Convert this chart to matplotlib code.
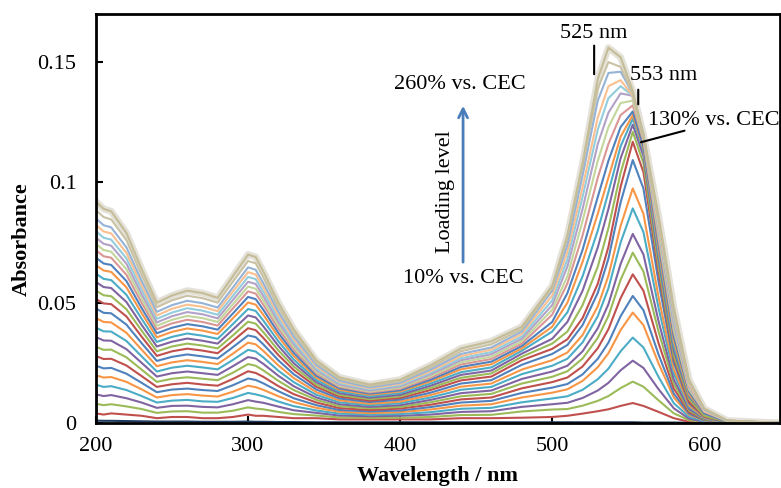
import numpy as np
import matplotlib.pyplot as plt

plt.rcParams['font.family'] = ['Liberation Serif', 'DejaVu Serif']
plt.rcParams['font.size'] = 16

wavelength = [200, 205, 210, 220, 230, 240, 250, 260, 270, 280, 290, 300, 305, 310,
              320, 330, 345, 360, 380, 400, 420, 440, 460, 480, 500, 510, 520, 530,
              537, 545, 553, 560, 570, 580, 590, 600, 615, 650]

# blank
abs_000 = [0.0010, 0.0009, 0.0009, 0.0008, 0.0007, 0.0006, 0.0006, 0.0006, 0.0005, 0.0005, 0.0005, 0.0006, 0.0005, 0.0005, 0.0004, 0.0004, 0.0003, 0.0003, 0.0003, 0.0003, 0.0003, 0.0003, 0.0003, 0.0003, 0.0003, 0.0003, 0.0003, 0.0003, 0.0003, 0.0003, 0.0003, 0.0002, 0.0002, 0.0002, 0.0001, 0.0001, 0.0, 0.0]

# loading level, % vs. CEC
abs_010 = [0.0040, 0.0035, 0.0040, 0.0035, 0.0030, 0.0020, 0.0025, 0.0025, 0.0020, 0.0020, 0.0025, 0.0035, 0.0030, 0.0030, 0.0025, 0.0020, 0.0020, 0.0015, 0.0015, 0.0015, 0.0015, 0.0020, 0.0020, 0.0022, 0.0025, 0.0030, 0.0039, 0.0049, 0.0057, 0.0071, 0.0083, 0.0071, 0.0046, 0.0020, 0.0005, 0.0001, 0.0, 0.0]
abs_020 = [0.0080, 0.0074, 0.0078, 0.0069, 0.0058, 0.0042, 0.0048, 0.0049, 0.0043, 0.0043, 0.0051, 0.0065, 0.0060, 0.0057, 0.0046, 0.0037, 0.0031, 0.0023, 0.0022, 0.0022, 0.0025, 0.0033, 0.0034, 0.0048, 0.0056, 0.0058, 0.0072, 0.0092, 0.0112, 0.0145, 0.0172, 0.0151, 0.0094, 0.0040, 0.0012, 0.0003, 0.0, 0.0]
abs_030 = [0.0119, 0.0112, 0.0116, 0.0103, 0.0085, 0.0063, 0.0071, 0.0072, 0.0067, 0.0065, 0.0078, 0.0095, 0.0089, 0.0084, 0.0068, 0.0053, 0.0042, 0.0031, 0.0028, 0.0030, 0.0035, 0.0046, 0.0049, 0.0067, 0.0078, 0.0084, 0.0104, 0.0135, 0.0167, 0.0219, 0.0259, 0.0229, 0.0140, 0.0061, 0.0018, 0.0005, 0.0, 0.0]
abs_040 = [0.0159, 0.0150, 0.0153, 0.0137, 0.0112, 0.0085, 0.0093, 0.0096, 0.0090, 0.0088, 0.0104, 0.0125, 0.0119, 0.0111, 0.0089, 0.0070, 0.0052, 0.0039, 0.0035, 0.0037, 0.0045, 0.0059, 0.0063, 0.0086, 0.0102, 0.0111, 0.0138, 0.0182, 0.0226, 0.0298, 0.0355, 0.0314, 0.0191, 0.0082, 0.0026, 0.0008, 0.0, 0.0]
abs_050 = [0.0198, 0.0189, 0.0191, 0.0171, 0.0140, 0.0106, 0.0116, 0.0120, 0.0114, 0.0110, 0.0130, 0.0155, 0.0149, 0.0138, 0.0111, 0.0087, 0.0063, 0.0047, 0.0041, 0.0045, 0.0056, 0.0072, 0.0078, 0.0106, 0.0126, 0.0140, 0.0175, 0.0232, 0.0290, 0.0386, 0.0459, 0.0407, 0.0247, 0.0106, 0.0034, 0.0011, 0.0, 0.0]
abs_060 = [0.0238, 0.0227, 0.0229, 0.0205, 0.0167, 0.0128, 0.0139, 0.0143, 0.0137, 0.0133, 0.0157, 0.0185, 0.0179, 0.0165, 0.0132, 0.0103, 0.0074, 0.0054, 0.0048, 0.0052, 0.0066, 0.0085, 0.0092, 0.0125, 0.0147, 0.0162, 0.0202, 0.0267, 0.0334, 0.0444, 0.0528, 0.0469, 0.0284, 0.0122, 0.0039, 0.0012, 0.0, 0.0]
abs_070 = [0.0278, 0.0266, 0.0267, 0.0239, 0.0195, 0.0150, 0.0161, 0.0167, 0.0160, 0.0155, 0.0183, 0.0215, 0.0208, 0.0192, 0.0153, 0.0120, 0.0085, 0.0062, 0.0054, 0.0060, 0.0076, 0.0098, 0.0106, 0.0144, 0.0170, 0.0189, 0.0235, 0.0311, 0.0390, 0.0519, 0.0618, 0.0550, 0.0331, 0.0143, 0.0045, 0.0015, 0.0, 0.0]
abs_080 = [0.0317, 0.0304, 0.0305, 0.0273, 0.0222, 0.0171, 0.0184, 0.0190, 0.0184, 0.0178, 0.0209, 0.0245, 0.0238, 0.0219, 0.0175, 0.0137, 0.0096, 0.0070, 0.0061, 0.0067, 0.0086, 0.0111, 0.0121, 0.0164, 0.0192, 0.0215, 0.0268, 0.0354, 0.0445, 0.0595, 0.0708, 0.0630, 0.0379, 0.0163, 0.0052, 0.0016, 0.0, 0.0]
abs_090 = [0.0357, 0.0343, 0.0342, 0.0307, 0.0250, 0.0193, 0.0207, 0.0214, 0.0207, 0.0200, 0.0236, 0.0274, 0.0268, 0.0246, 0.0196, 0.0153, 0.0106, 0.0078, 0.0067, 0.0074, 0.0096, 0.0124, 0.0135, 0.0183, 0.0214, 0.0238, 0.0298, 0.0394, 0.0494, 0.0661, 0.0786, 0.0701, 0.0422, 0.0181, 0.0058, 0.0019, 0.0, 0.0]
abs_100 = [0.0396, 0.0381, 0.0380, 0.0341, 0.0277, 0.0214, 0.0230, 0.0238, 0.0231, 0.0223, 0.0262, 0.0304, 0.0297, 0.0273, 0.0217, 0.0170, 0.0117, 0.0086, 0.0074, 0.0082, 0.0106, 0.0138, 0.0150, 0.0203, 0.0238, 0.0267, 0.0335, 0.0444, 0.0560, 0.0750, 0.0892, 0.0794, 0.0477, 0.0205, 0.0067, 0.0021, 0.0, 0.0]
abs_110 = [0.0436, 0.0420, 0.0418, 0.0375, 0.0305, 0.0236, 0.0252, 0.0261, 0.0254, 0.0245, 0.0288, 0.0334, 0.0327, 0.0300, 0.0239, 0.0187, 0.0128, 0.0094, 0.0080, 0.0089, 0.0116, 0.0151, 0.0164, 0.0222, 0.0261, 0.0293, 0.0366, 0.0485, 0.0612, 0.0819, 0.0975, 0.0870, 0.0522, 0.0224, 0.0073, 0.0023, 0.0, 0.0]
abs_120 = [0.0476, 0.0458, 0.0456, 0.0409, 0.0332, 0.0258, 0.0275, 0.0285, 0.0277, 0.0268, 0.0315, 0.0364, 0.0357, 0.0327, 0.0260, 0.0203, 0.0139, 0.0102, 0.0087, 0.0097, 0.0126, 0.0164, 0.0178, 0.0242, 0.0287, 0.0324, 0.0407, 0.0541, 0.0683, 0.0917, 0.1093, 0.0975, 0.0585, 0.0251, 0.0082, 0.0026, 0.0, 0.0]
abs_130 = [0.0515, 0.0497, 0.0494, 0.0443, 0.0359, 0.0279, 0.0298, 0.0309, 0.0301, 0.0290, 0.0341, 0.0394, 0.0386, 0.0354, 0.0282, 0.0220, 0.0150, 0.0110, 0.0093, 0.0104, 0.0137, 0.0177, 0.0193, 0.0261, 0.0308, 0.0348, 0.0436, 0.0579, 0.0732, 0.0982, 0.1169, 0.1043, 0.0625, 0.0269, 0.0088, 0.0027, 0.0005, 0.0]
abs_140 = [0.0550, 0.0531, 0.0527, 0.0473, 0.0384, 0.0298, 0.0318, 0.0330, 0.0322, 0.0310, 0.0364, 0.0421, 0.0413, 0.0378, 0.0301, 0.0235, 0.0159, 0.0117, 0.0099, 0.0111, 0.0146, 0.0188, 0.0206, 0.0275, 0.0330, 0.0380, 0.0490, 0.0650, 0.0810, 0.1040, 0.1210, 0.1080, 0.0650, 0.0280, 0.0100, 0.0030, 0.0005, 0.0]
abs_150 = [0.0586, 0.0565, 0.0561, 0.0503, 0.0408, 0.0318, 0.0338, 0.0351, 0.0342, 0.0330, 0.0388, 0.0447, 0.0439, 0.0402, 0.0320, 0.0249, 0.0169, 0.0124, 0.0105, 0.0117, 0.0155, 0.0200, 0.0218, 0.0288, 0.0350, 0.0420, 0.0550, 0.0730, 0.0890, 0.1100, 0.1240, 0.1110, 0.0680, 0.0300, 0.0110, 0.0040, 0.0006, 0.0]
abs_160 = [0.0621, 0.0599, 0.0594, 0.0533, 0.0433, 0.0337, 0.0358, 0.0372, 0.0363, 0.0350, 0.0411, 0.0474, 0.0466, 0.0426, 0.0339, 0.0264, 0.0178, 0.0131, 0.0111, 0.0124, 0.0164, 0.0211, 0.0231, 0.0300, 0.0380, 0.0460, 0.0610, 0.0800, 0.0960, 0.1150, 0.1265, 0.1130, 0.0700, 0.0320, 0.0115, 0.0040, 0.0006, 0.0]
abs_170 = [0.0656, 0.0634, 0.0628, 0.0564, 0.0457, 0.0356, 0.0379, 0.0393, 0.0384, 0.0370, 0.0435, 0.0501, 0.0492, 0.0450, 0.0358, 0.0279, 0.0188, 0.0138, 0.0117, 0.0131, 0.0173, 0.0223, 0.0244, 0.0310, 0.0400, 0.0500, 0.0670, 0.0870, 0.1020, 0.1190, 0.1280, 0.1140, 0.0720, 0.0340, 0.0120, 0.0040, 0.0007, 0.0]
abs_180 = [0.0687, 0.0663, 0.0657, 0.0590, 0.0478, 0.0373, 0.0396, 0.0411, 0.0402, 0.0388, 0.0455, 0.0524, 0.0515, 0.0471, 0.0374, 0.0292, 0.0196, 0.0144, 0.0122, 0.0136, 0.0180, 0.0233, 0.0255, 0.0320, 0.0420, 0.0540, 0.0720, 0.0940, 0.1090, 0.1230, 0.1295, 0.1150, 0.0740, 0.0360, 0.0130, 0.0040, 0.0007, 0.0]
abs_190 = [0.0718, 0.0693, 0.0687, 0.0616, 0.0500, 0.0390, 0.0414, 0.0429, 0.0420, 0.0405, 0.0476, 0.0547, 0.0538, 0.0492, 0.0391, 0.0305, 0.0205, 0.0150, 0.0127, 0.0142, 0.0188, 0.0243, 0.0266, 0.0330, 0.0450, 0.0580, 0.0780, 0.1020, 0.1160, 0.1280, 0.1320, 0.1170, 0.0760, 0.0380, 0.0140, 0.0046, 0.0008, 0.0]
abs_200 = [0.0744, 0.0719, 0.0712, 0.0639, 0.0518, 0.0404, 0.0429, 0.0445, 0.0436, 0.0420, 0.0493, 0.0567, 0.0558, 0.0510, 0.0405, 0.0316, 0.0212, 0.0155, 0.0131, 0.0147, 0.0195, 0.0252, 0.0276, 0.0340, 0.0470, 0.0610, 0.0840, 0.1090, 0.1230, 0.1330, 0.1340, 0.1180, 0.0780, 0.0390, 0.0140, 0.0050, 0.0008, 0.0]
abs_210 = [0.0770, 0.0745, 0.0737, 0.0662, 0.0536, 0.0418, 0.0444, 0.0461, 0.0452, 0.0435, 0.0511, 0.0587, 0.0578, 0.0528, 0.0419, 0.0327, 0.0219, 0.0160, 0.0135, 0.0152, 0.0202, 0.0261, 0.0286, 0.0350, 0.0490, 0.0650, 0.0890, 0.1160, 0.1290, 0.1370, 0.1360, 0.1190, 0.0800, 0.0410, 0.0150, 0.0050, 0.0009, 0.0]
abs_220 = [0.0797, 0.0770, 0.0762, 0.0684, 0.0555, 0.0433, 0.0459, 0.0477, 0.0467, 0.0450, 0.0528, 0.0607, 0.0598, 0.0546, 0.0434, 0.0338, 0.0226, 0.0166, 0.0140, 0.0157, 0.0209, 0.0269, 0.0295, 0.0360, 0.0510, 0.0680, 0.0940, 0.1220, 0.1350, 0.1400, 0.1360, 0.1190, 0.0810, 0.0430, 0.0160, 0.0050, 0.0009, 0.0]
abs_230 = [0.0823, 0.0796, 0.0788, 0.0707, 0.0573, 0.0447, 0.0475, 0.0492, 0.0483, 0.0465, 0.0546, 0.0627, 0.0617, 0.0564, 0.0448, 0.0349, 0.0234, 0.0171, 0.0144, 0.0162, 0.0215, 0.0278, 0.0305, 0.0370, 0.0530, 0.0710, 0.0980, 0.1270, 0.1400, 0.1425, 0.1360, 0.1190, 0.0820, 0.0440, 0.0160, 0.0050, 0.0010, 0.0]
abs_240 = [0.0850, 0.0822, 0.0813, 0.0730, 0.0591, 0.0462, 0.0490, 0.0508, 0.0498, 0.0480, 0.0563, 0.0647, 0.0637, 0.0582, 0.0462, 0.0360, 0.0241, 0.0176, 0.0148, 0.0167, 0.0222, 0.0287, 0.0314, 0.0380, 0.0550, 0.0740, 0.1030, 0.1340, 0.1455, 0.1460, 0.1370, 0.1200, 0.0840, 0.0450, 0.0170, 0.0056, 0.0010, 0.0]
abs_250 = [0.0885, 0.0856, 0.0846, 0.0760, 0.0616, 0.0481, 0.0510, 0.0529, 0.0519, 0.0500, 0.0587, 0.0673, 0.0664, 0.0606, 0.0481, 0.0375, 0.0250, 0.0183, 0.0154, 0.0173, 0.0231, 0.0298, 0.0327, 0.0390, 0.0560, 0.0770, 0.1070, 0.1390, 0.1500, 0.1480, 0.1370, 0.1190, 0.0840, 0.0460, 0.0170, 0.0060, 0.0010, 0.0]
abs_260 = [0.0920, 0.0890, 0.0880, 0.0790, 0.0640, 0.0500, 0.0530, 0.0550, 0.0540, 0.0520, 0.0610, 0.0700, 0.0690, 0.0630, 0.0500, 0.0390, 0.0260, 0.0190, 0.0160, 0.0180, 0.0240, 0.0310, 0.0340, 0.0400, 0.0570, 0.0780, 0.1080, 0.1430, 0.1560, 0.1520, 0.1380, 0.1200, 0.0860, 0.0480, 0.0180, 0.0060, 0.0010, 0.0]

spectra = [abs_010, abs_020, abs_030, abs_040, abs_050, abs_060, abs_070, abs_080,
           abs_090, abs_100, abs_110, abs_120, abs_130, abs_140, abs_150, abs_160,
           abs_170, abs_180, abs_190, abs_200, abs_210, abs_220, abs_230, abs_240,
           abs_250, abs_260]

# excel-ish series colours, the high loadings come out pale
base_colors = ['#C0504D', '#9BBB59', '#8064A2', '#4BACC6', '#F79646', '#4F81BD']
pale_colors = ['#D99694', '#C3D69B', '#B3A2C7', '#93CDDD', '#FAC090', '#95B3D7',
               '#C9C2A4', '#C4BD97']
colors = [base_colors[i % 6] for i in range(18)] + pale_colors

fig = plt.figure(figsize=(7.81, 4.88), dpi=100)
ax = fig.add_axes([96 / 781, 1 - 423 / 488, (779.5 - 96) / 781, (423 - 14) / 488])

# faint halo round the top spectra, as in the scanned figure
ax.plot(wavelength, abs_260, color='#DEDAD0', lw=5, alpha=0.8, zorder=1)
ax.plot(wavelength, abs_000, color='#1F3A60', lw=1.5, zorder=2)
for y, c in zip(spectra, colors):
    ax.plot(wavelength, y, color=c, lw=1.5, zorder=2)

ax.set_xlim(200, 649.5)
ax.set_ylim(0, 0.17)
ax.set_xticks([200, 300, 400, 500, 600])
ax.set_yticks([0, 0.05, 0.1, 0.15])
ax.set_yticklabels(['0', '0.05', '0.1', '0.15'])
ax.tick_params(direction='in', length=5, width=1.5, labelsize=16)
ax.tick_params(axis='x', pad=10)
ax.tick_params(axis='y', pad=14)
for sp in ax.spines.values():
    sp.set_linewidth(2)

ax.set_xlabel('Wavelength / nm', fontweight='bold', fontsize=16, va='center')
ax.xaxis.set_label_coords(0.5, (423 - 476) / 409)
ax.set_ylabel('Absorbance', fontweight='bold', fontsize=16, va='center')
ax.yaxis.set_label_coords((22 - 96) / 683.5, 0.45)

# peak labels
ax.text(527.6, 0.1621, '525 nm', ha='center', va='center')
ax.annotate('', xy=(527.6, 0.1438), xytext=(527.6, 0.158),
            arrowprops=dict(arrowstyle='-', color='black', lw=1.5))
ax.text(551.3, 0.1446, '553 nm', ha='left', va='center')
ax.annotate('', xy=(556.6, 0.1313), xytext=(556.6, 0.1397),
            arrowprops=dict(arrowstyle='-', color='black', lw=1.5))
ax.text(563.2, 0.1259, '130% vs. CEC', ha='left', va='center', clip_on=False)
ax.annotate('', xy=(556.6, 0.1164), xytext=(588.8, 0.1218),
            arrowprops=dict(arrowstyle='-', color='black', lw=1.5))

# loading level arrow
ax.annotate('', xy=(441.4, 0.133), xytext=(441.4, 0.0657),
            arrowprops=dict(arrowstyle='->', color='#4A7EBB', lw=2))
ax.text(439.5, 0.1405, '260% vs. CEC', ha='center', va='center')
ax.text(441.4, 0.0599, '10% vs. CEC', ha='center', va='center')
ax.text(429.6, 0.096, 'Loading level', ha='center', va='center', rotation=90)

fig.savefig('out.png', dpi=100)
